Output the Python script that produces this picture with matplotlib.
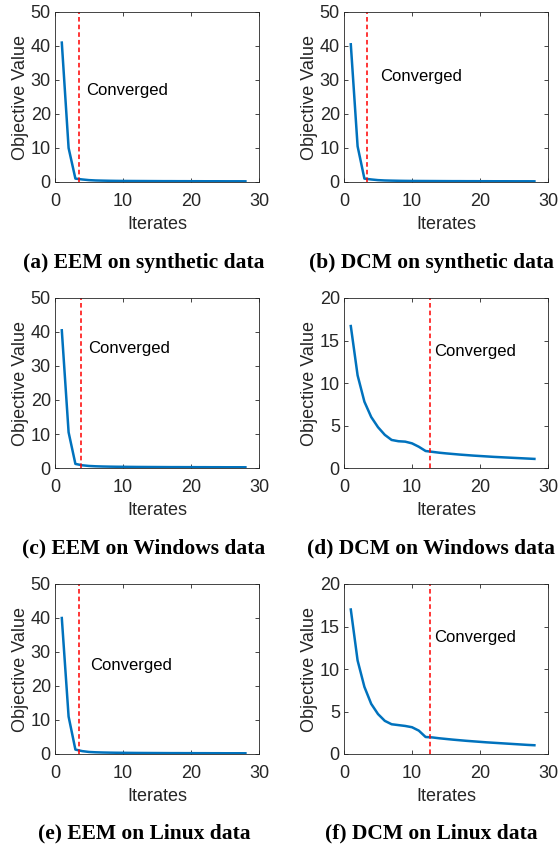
import numpy as np
import matplotlib.pyplot as plt

# --- objective value per iterate --- #
iters = np.arange(1, 29)

eem_syn = [41.0, 10.0, 1.0, 0.75, 0.55, 0.45, 0.4, 0.36, 0.33, 0.31, 0.3, 0.29, 0.28, 0.27,
           0.26, 0.25, 0.25, 0.24, 0.24, 0.23, 0.23, 0.22, 0.22, 0.22, 0.21, 0.21, 0.21, 0.2]
dcm_syn = [40.5, 10.5, 1.0, 0.75, 0.55, 0.45, 0.4, 0.36, 0.33, 0.31, 0.3, 0.29, 0.28, 0.27,
           0.26, 0.25, 0.25, 0.24, 0.24, 0.23, 0.23, 0.22, 0.22, 0.22, 0.21, 0.21, 0.21, 0.2]
eem_win = [40.5, 10.5, 1.2, 0.8, 0.6, 0.5, 0.44, 0.4, 0.37, 0.35, 0.33, 0.31, 0.3, 0.29,
           0.28, 0.27, 0.26, 0.26, 0.25, 0.25, 0.24, 0.24, 0.23, 0.23, 0.22, 0.22, 0.22, 0.21]
dcm_win = [16.7, 10.9, 7.8, 6.0, 4.8, 3.9, 3.3, 3.15, 3.1, 2.9, 2.5, 2.0, 1.9, 1.8,
           1.72, 1.65, 1.58, 1.52, 1.46, 1.41, 1.36, 1.31, 1.27, 1.23, 1.19, 1.15, 1.11, 1.07]
eem_lin = [40.0, 11.0, 1.3, 0.85, 0.6, 0.5, 0.44, 0.4, 0.37, 0.35, 0.33, 0.31, 0.3, 0.29,
           0.28, 0.27, 0.26, 0.26, 0.25, 0.25, 0.24, 0.24, 0.23, 0.23, 0.22, 0.22, 0.22, 0.21]
dcm_lin = [17.0, 11.0, 7.9, 5.9, 4.7, 3.9, 3.5, 3.4, 3.3, 3.15, 2.75, 2.0, 1.95, 1.85,
           1.77, 1.69, 1.62, 1.55, 1.49, 1.43, 1.37, 1.32, 1.27, 1.22, 1.17, 1.12, 1.07, 1.03]

series = [eem_syn, dcm_syn, eem_win, dcm_win, eem_lin, dcm_lin]
converged_at = [3.5, 3.4, 3.8, 12.7, 3.6, 12.6]
ylims = [50, 50, 50, 20, 50, 20]
label_pos = [(4.6, 27), (5.3, 31), (4.8, 35), (13.3, 13.7), (5.2, 26), (13.3, 13.7)]
captions = ['(a) EEM on synthetic data', '(b) DCM on synthetic data',
            '(c) EEM on Windows data', '(d) DCM on Windows data',
            '(e) EEM on Linux data', '(f) DCM on Linux data']

plt.rcParams['font.family'] = ['Liberation Sans', 'DejaVu Sans']

W, H = 559, 848
fig = plt.figure(figsize=(W / 100, H / 100), dpi=100)

lefts = [55, 344]
tops = [12, 298, 584]
caption_y = [263, 548, 833]
caption_x = [144, 431]
gray = '#262626'

for i, y in enumerate(series):
    r, c = divmod(i, 2)
    ax = fig.add_axes([lefts[c] / W, 1 - (tops[r] + 170) / H, 204 / W, 170 / H])
    ax.plot(iters, y, color='#0072BD', lw=1.8)
    ax.axvline(converged_at[i], color='#FF0000', ls='--', lw=1.1, dashes=(3, 2))
    ax.text(*label_pos[i], 'Converged', fontsize=12, color='black', va='center', ha='left')
    ax.set_xlim(0, 30)
    ax.set_ylim(0, ylims[i])
    ax.set_xticks([0, 10, 20, 30])
    ax.set_yticks(np.arange(0, ylims[i] + 1, 10 if ylims[i] == 50 else 5))
    ax.tick_params(direction='in', top=True, right=True, labelsize=13,
                   colors=gray, length=3, width=0.6, pad=3)
    ax.tick_params(axis='x', pad=8)
    for s in ax.spines.values():
        s.set_color(gray)
        s.set_linewidth(0.6)
    ax.set_xlabel('Iterates', fontsize=13, color=gray, labelpad=4)
    ax.set_ylabel('Objective Value', fontsize=13, color=gray, labelpad=1)
    fig.text(caption_x[c] / W, 1 - caption_y[r] / H, captions[i],
             ha='center', va='center', fontsize=15.5, fontweight='bold',
             family=['Liberation Serif'])

fig.savefig('out.png', dpi=100)
